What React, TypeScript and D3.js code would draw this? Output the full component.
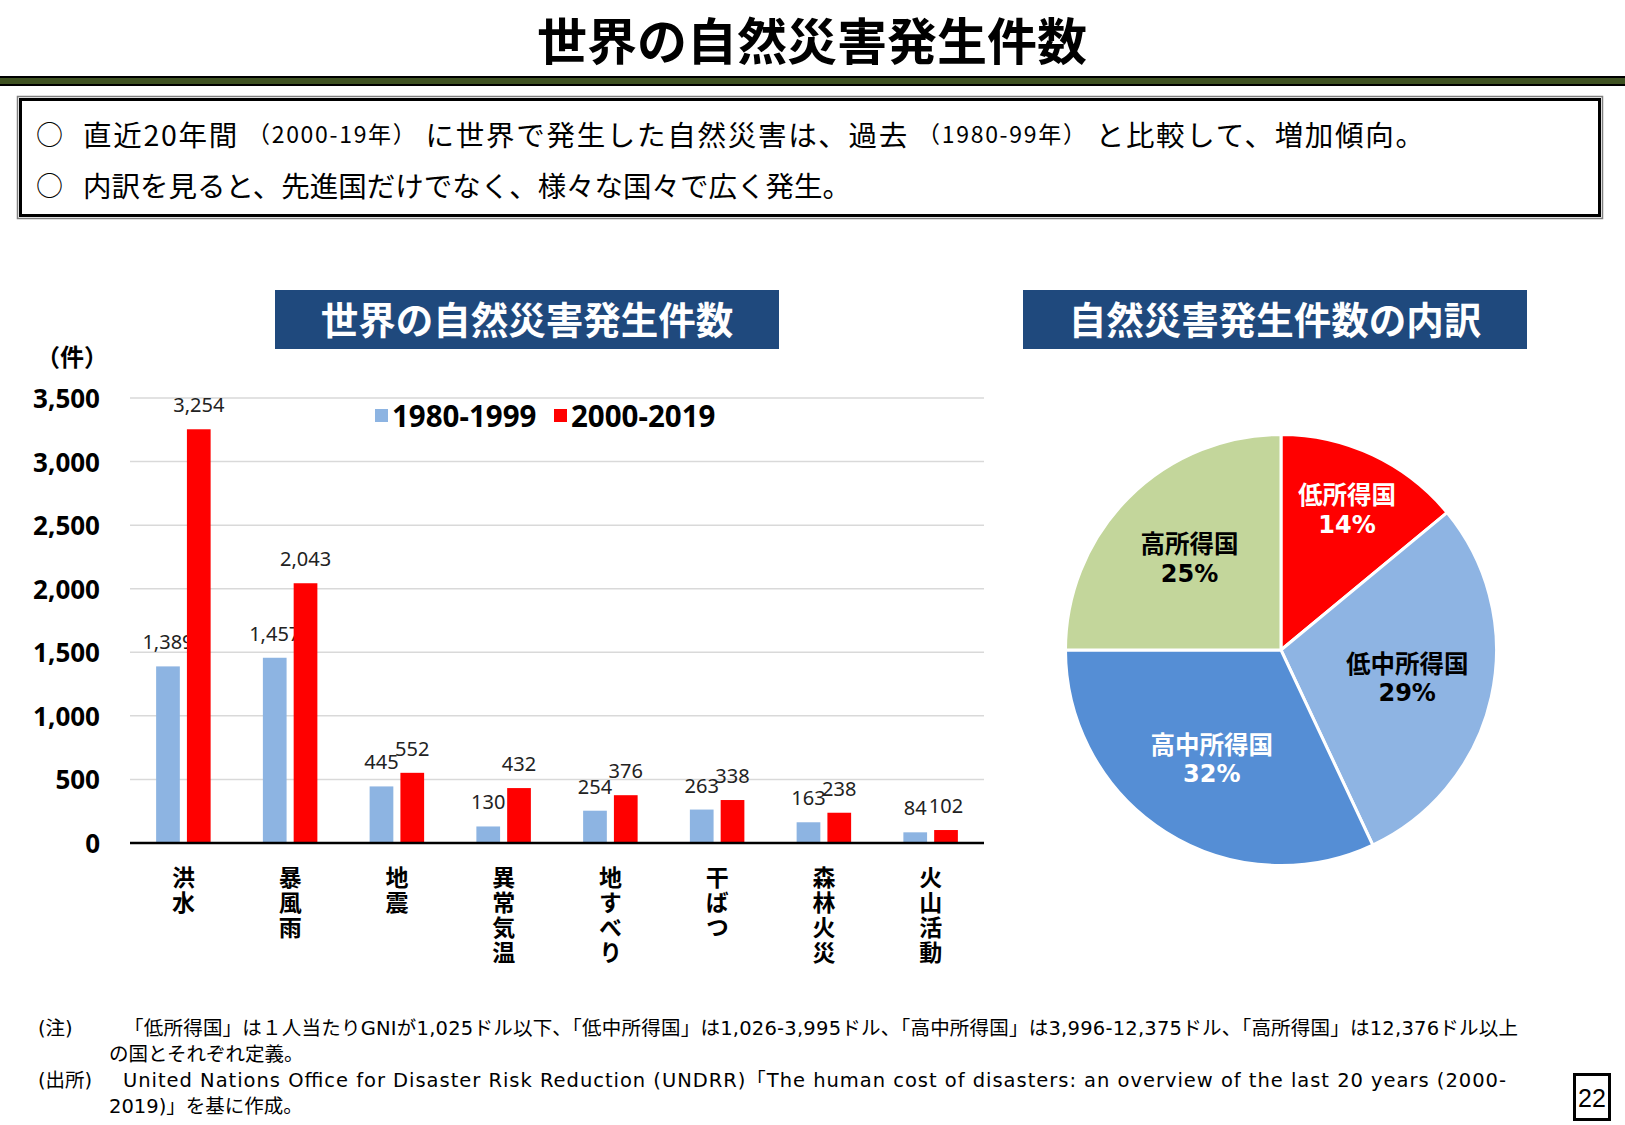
import { useEffect, useRef } from "react";
import * as d3 from "d3";

const categories = ["洪水", "暴風雨", "地震", "異常気温", "地すべり", "干ばつ", "森林火災", "火山活動"];
const periods = ["1980-1999", "2000-2019"];
const counts1980 = [1389, 1457, 445, 130, 254, 263, 163, 84];
const counts2000 = [3254, 2043, 552, 432, 376, 338, 238, 102];
const yTicks = [0, 500, 1000, 1500, 2000, 2500, 3000, 3500];

const incomeGroups = ["低所得国", "低中所得国", "高中所得国", "高所得国"];
const incomeShares = [14, 29, 32, 25];

const JP = "'Noto Sans CJK JP', sans-serif";
const NUM = "'Noto Sans', 'Open Sans', sans-serif";
const WIDE = "'DejaVu Sans', 'Noto Sans CJK JP', sans-serif";

const periodColors = ["#8DB4E2", "#FF0000"];
const pieColors = ["#FF0000", "#8EB4E3", "#558ED5", "#C3D69B"];
const pieTextColors = ["#FFFFFF", "#000000", "#FFFFFF", "#000000"];

const DisasterSlide = () => {
  const svgRef = useRef<SVGSVGElement>(null);

  useEffect(() => {
    if (!svgRef.current) return;
    const svg = d3.select(svgRef.current);
    svg.selectAll("*").remove();

    svg.append("rect").attr("width", 1625).attr("height", 1125).attr("fill", "#fff");

    // page heading
    svg
      .append("text")
      .attr("x", 812)
      .attr("y", 38)
      .attr("text-anchor", "middle")
      .attr("dominant-baseline", "central")
      .style("font-family", JP)
      .style("font-weight", 700)
      .style("font-size", "50px")
      .text("世界の自然災害発生件数");

    svg.append("rect").attr("x", 0).attr("y", 76).attr("width", 1625).attr("height", 10).attr("fill", "#000");
    svg.append("rect").attr("x", 0).attr("y", 78).attr("width", 1625).attr("height", 6).attr("fill", "#3F5222");

    // summary box
    svg
      .append("rect")
      .attr("x", 17.5)
      .attr("y", 96.5)
      .attr("width", 1585)
      .attr("height", 122)
      .attr("fill", "none")
      .attr("stroke", "#808080")
      .attr("stroke-width", 1.5);
    svg
      .append("rect")
      .attr("x", 20.5)
      .attr("y", 99.5)
      .attr("width", 1579)
      .attr("height", 116)
      .attr("fill", "#fff")
      .attr("stroke", "#000")
      .attr("stroke-width", 3);

    const bullet1: [string, boolean][] = [
      ["直近20年間 ", false],
      ["（2000-19年）", true],
      [" に世界で発生した自然災害は、過去 ", false],
      ["（1980-99年）", true],
      [" と比較して、増加傾向。", false],
    ];
    const bullet2: [string, boolean][] = [["内訳を見ると、先進国だけでなく、様々な国々で広く発生。", false]];
    const bulletLengths = [1341, 768];

    [bullet1, bullet2].forEach((parts, i) => {
      const yy = 133 + i * 51;
      svg
        .append("text")
        .attr("x", 36)
        .attr("y", yy)
        .attr("dominant-baseline", "central")
        .style("font-family", JP)
        .style("font-size", "27px")
        .text("○");
      const t = svg
        .append("text")
        .attr("x", 83)
        .attr("y", yy)
        .attr("dominant-baseline", "central")
        .attr("textLength", bulletLengths[i])
        .attr("lengthAdjust", "spacing")
        .style("font-family", JP)
        .style("white-space", "pre");
      parts.forEach(([s, small]) => {
        t.append("tspan").style("font-size", small ? "23px" : "28.5px").text(s);
      });
    });

    // panel headers
    const headers = [
      { x: 275, label: "世界の自然災害発生件数" },
      { x: 1023, label: "自然災害発生件数の内訳" },
    ];
    headers.forEach((h) => {
      svg.append("rect").attr("x", h.x).attr("y", 290).attr("width", 504).attr("height", 59).attr("fill", "#1F497D");
      svg
        .append("text")
        .attr("x", h.x + 252)
        .attr("y", 317)
        .attr("text-anchor", "middle")
        .attr("dominant-baseline", "central")
        .style("font-family", JP)
        .style("font-weight", 700)
        .style("font-size", "37.5px")
        .style("fill", "#fff")
        .text(h.label);
    });

    // bar chart
    const x0 = d3.scaleBand().domain(categories).range([130, 984]);
    const groupW = 54.5;
    const x1 = d3.scaleBand().domain(periods).range([0, groupW]).paddingInner(0.23);
    const groupOffset = (x0.bandwidth() - groupW) / 2;
    const y = d3.scaleLinear().domain([0, 3500]).range([843, 398]);

    const bars = svg.append("g");
    bars
      .selectAll(".grid")
      .data(yTicks.filter((d) => d > 0))
      .join("line")
      .attr("x1", 130)
      .attr("x2", 984)
      .attr("y1", (d) => y(d))
      .attr("y2", (d) => y(d))
      .attr("stroke", "#D9D9D9")
      .attr("stroke-width", 1.5);

    bars
      .selectAll(".ytick")
      .data(yTicks)
      .join("text")
      .attr("x", 100)
      .attr("y", (d) => y(d))
      .attr("text-anchor", "end")
      .attr("dominant-baseline", "central")
      .style("font-family", NUM)
      .style("font-weight", 700)
      .style("font-size", "26px")
      .text((d) => d3.format(",")(d));

    bars
      .append("text")
      .attr("x", 72)
      .attr("y", 355)
      .attr("text-anchor", "middle")
      .attr("dominant-baseline", "central")
      .style("font-family", JP)
      .style("font-weight", 700)
      .style("font-size", "24px")
      .text("（件）");

    const seriesData = [counts1980, counts2000];
    seriesData.forEach((vals, si) => {
      const rows = categories.map((c, i) => ({ c, v: vals[i] }));
      const barX = (c: string) => (x0(c) ?? 0) + groupOffset + (x1(periods[si]) ?? 0);
      bars
        .selectAll(`.bar${si}`)
        .data(rows)
        .join("rect")
        .attr("x", (d) => barX(d.c))
        .attr("y", (d) => y(d.v))
        .attr("width", x1.bandwidth())
        .attr("height", (d) => y(0) - y(d.v))
        .attr("fill", periodColors[si]);
      bars
        .selectAll(`.lab${si}`)
        .data(rows)
        .join("text")
        .attr("x", (d) => barX(d.c) + x1.bandwidth() / 2)
        .attr("y", (d) => y(d.v) - 17)
        .attr("text-anchor", "middle")
        .style("font-family", NUM)
        .style("font-size", "20px")
        .style("fill", "#222")
        .text((d) => d3.format(",")(d.v));
    });

    bars
      .append("line")
      .attr("x1", 130)
      .attr("x2", 984)
      .attr("y1", y(0))
      .attr("y2", y(0))
      .attr("stroke", "#000")
      .attr("stroke-width", 2.5);

    // category names, set vertically
    bars
      .selectAll(".cat")
      .data(categories)
      .join("text")
      .attr("x", (c) => (x0(c) ?? 0) + x0.bandwidth() / 2)
      .attr("y", 866)
      .style("writing-mode", "vertical-rl")
      .style("text-orientation", "upright")
      .style("letter-spacing", "2px")
      .style("font-family", JP)
      .style("font-weight", 700)
      .style("font-size", "23px")
      .text((c) => c);

    // legend
    const legendX = [375, 554];
    periods.forEach((p, i) => {
      bars.append("rect").attr("x", legendX[i]).attr("y", 409).attr("width", 13).attr("height", 13).attr("fill", periodColors[i]);
      bars
        .append("text")
        .attr("x", legendX[i] + 17)
        .attr("y", 415)
        .attr("dominant-baseline", "central")
        .style("font-family", NUM)
        .style("font-weight", 700)
        .style("font-size", "29.5px")
        .text(p);
    });

    // pie chart
    const cx = 1281;
    const cy = 650;
    const r = 215.5;
    const pieData = d3
      .pie<number>()
      .sort(null)
      .value((d) => d)(incomeShares);
    const arc = d3.arc<d3.PieArcDatum<number>>().innerRadius(0).outerRadius(r);
    const pie = svg.append("g").attr("transform", `translate(${cx},${cy})`);
    pie
      .selectAll("path")
      .data(pieData)
      .join("path")
      .attr("d", arc)
      .attr("fill", (_, i) => pieColors[i])
      .attr("stroke", "#fff")
      .attr("stroke-width", 3);

    pieData.forEach((d, i) => {
      const lr = d.data < 20 ? r * 0.72 : r * 0.6;
      const [lx, ly] = d3.arc<d3.PieArcDatum<number>>().innerRadius(lr).outerRadius(lr).centroid(d);
      const lines = [incomeGroups[i], `${d.data}%`];
      lines.forEach((s, k) => {
        pie
          .append("text")
          .attr("x", lx)
          .attr("y", ly - 16 + k * 31)
          .attr("text-anchor", "middle")
          .attr("dominant-baseline", "central")
          .style("font-family", k === 0 ? JP : "'DejaVu Sans', sans-serif")
          .style("font-weight", 700)
          .style("font-size", k === 0 ? "24.5px" : "24px")
          .style("fill", pieTextColors[i])
          .text(s);
      });
    });

    // notes
    const notes: { x: number; y: number; s: string; len?: number }[] = [
      { x: 38, y: 1028, s: "(注)" },
      {
        x: 124,
        y: 1028,
        s: "「低所得国」は１人当たりGNIが1,025ドル以下、「低中所得国」は1,026-3,995ドル、「高中所得国」は3,996-12,375ドル、「高所得国」は12,376ドル以上",
        len: 1394,
      },
      { x: 109, y: 1054, s: "の国とそれぞれ定義。" },
      { x: 38, y: 1080, s: "(出所)" },
      {
        x: 123,
        y: 1080,
        s: "United Nations Office for Disaster Risk Reduction (UNDRR)「The human cost of disasters: an overview of the last 20 years (2000-",
        len: 1383,
      },
      { x: 109, y: 1106, s: "2019)」を基に作成。" },
    ];
    notes.forEach((n) => {
      const t = svg
        .append("text")
        .attr("x", n.x)
        .attr("y", n.y)
        .attr("dominant-baseline", "central")
        .style("font-family", WIDE)
        .style("font-size", "19.5px")
        .text(n.s);
      if (n.len) t.attr("textLength", n.len).attr("lengthAdjust", "spacing");
    });

    // page number
    svg
      .append("rect")
      .attr("x", 1574.5)
      .attr("y", 1074.5)
      .attr("width", 35)
      .attr("height", 45)
      .attr("fill", "#fff")
      .attr("stroke", "#000")
      .attr("stroke-width", 3);
    svg
      .append("text")
      .attr("x", 1592)
      .attr("y", 1098)
      .attr("text-anchor", "middle")
      .attr("dominant-baseline", "central")
      .style("font-family", "'Liberation Sans', sans-serif")
      .style("font-size", "25px")
      .text("22");
  }, []);

  return (
    <svg
      ref={svgRef}
      width={1625}
      height={1125}
      style={{ position: "absolute", left: 0, top: 0, display: "block" }}
    />
  );
};

export default function App() {
  return <DisasterSlide />;
}
